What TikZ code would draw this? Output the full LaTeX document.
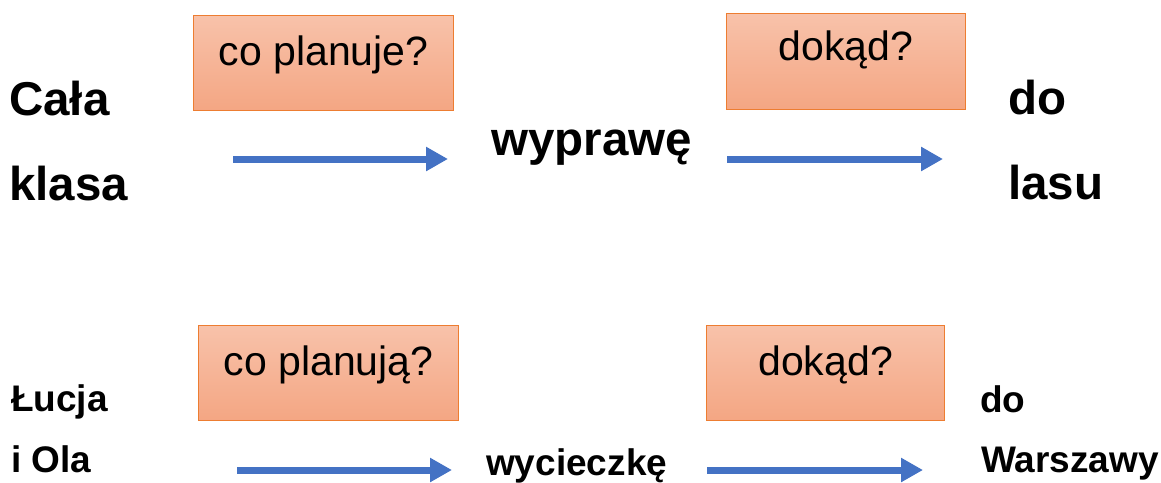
\documentclass[tikz,border=0pt]{standalone}
\usepackage{fontspec}
\setmainfont{Liberation Sans}
\usetikzlibrary{arrows.meta}
\definecolor{boxtop}{RGB}{248,194,170}
\definecolor{boxbot}{RGB}{244,166,131}
\definecolor{boxline}{RGB}{237,125,49}
\definecolor{arrowblue}{RGB}{68,114,196}
\tikzset{
  qbox/.style={draw=boxline, line width=1.2pt, top color=boxtop, bottom color=boxbot,
    inner sep=0pt, anchor=north west, align=center, font=\fontsize{41}{41}\selectfont},
  bigword/.style={anchor=base west, inner sep=0pt, font=\bfseries\fontsize{47.5}{47.5}\selectfont},
  smallword/.style={anchor=base west, inner sep=0pt, font=\bfseries\fontsize{37}{37}\selectfont},
  flow/.style={draw=arrowblue, line width=7pt, -{Triangle[length=22pt,width=23pt]}}
}
\begin{document}
\begin{tikzpicture}[x=1pt,y=-1pt]
\useasboundingbox (0,0) rectangle (1161,482);
% boxes
\node[qbox, minimum width=260pt, text height=50pt, text depth=45pt] (q1) at (193,15) {co planuje?};
\node[qbox, minimum width=239pt, text height=47pt, text depth=49pt] (q2) at (726,13) {dokąd?};
\node[qbox, minimum width=260pt, text height=50pt, text depth=45pt] (q3) at (198,325) {co planują?};
\node[qbox, minimum width=238pt, text height=50pt, text depth=45pt] (q4) at (706,325) {dokąd?};
% first row words
\node[bigword] (cala) at (9,115) {Cała};
\node[bigword] (klasa) at (9,200) {klasa};
\node[bigword] (wyprawe) at (491,155) {wyprawę};
\node[bigword] (do1) at (1008,114) {do};
\node[bigword] (lasu) at (1008,199) {lasu};
% second row words
\node[smallword] (lucja) at (11,411) {Łucja};
\node[smallword] (iola) at (11,472) {i Ola};
\node[smallword] (wycieczke) at (486,475) {wycieczkę};
\node[smallword] (do2) at (980,412) {do};
\node[smallword] (warszawy) at (981,472) {Warszawy};
% arrow end points
\coordinate (a1s) at (233,159);
\coordinate (a1e) at (448,159);
\coordinate (a2s) at (727,159);
\coordinate (a2e) at (943,159);
\coordinate (a3s) at (237,470);
\coordinate (a3e) at (452,470);
\coordinate (a4s) at (707,470);
\coordinate (a4e) at (923,470);
\draw[flow] (a1s) -- (a1e);
\draw[flow] (a2s) -- (a2e);
\draw[flow] (a3s) -- (a3e);
\draw[flow] (a4s) -- (a4e);
\end{tikzpicture}
\end{document}
